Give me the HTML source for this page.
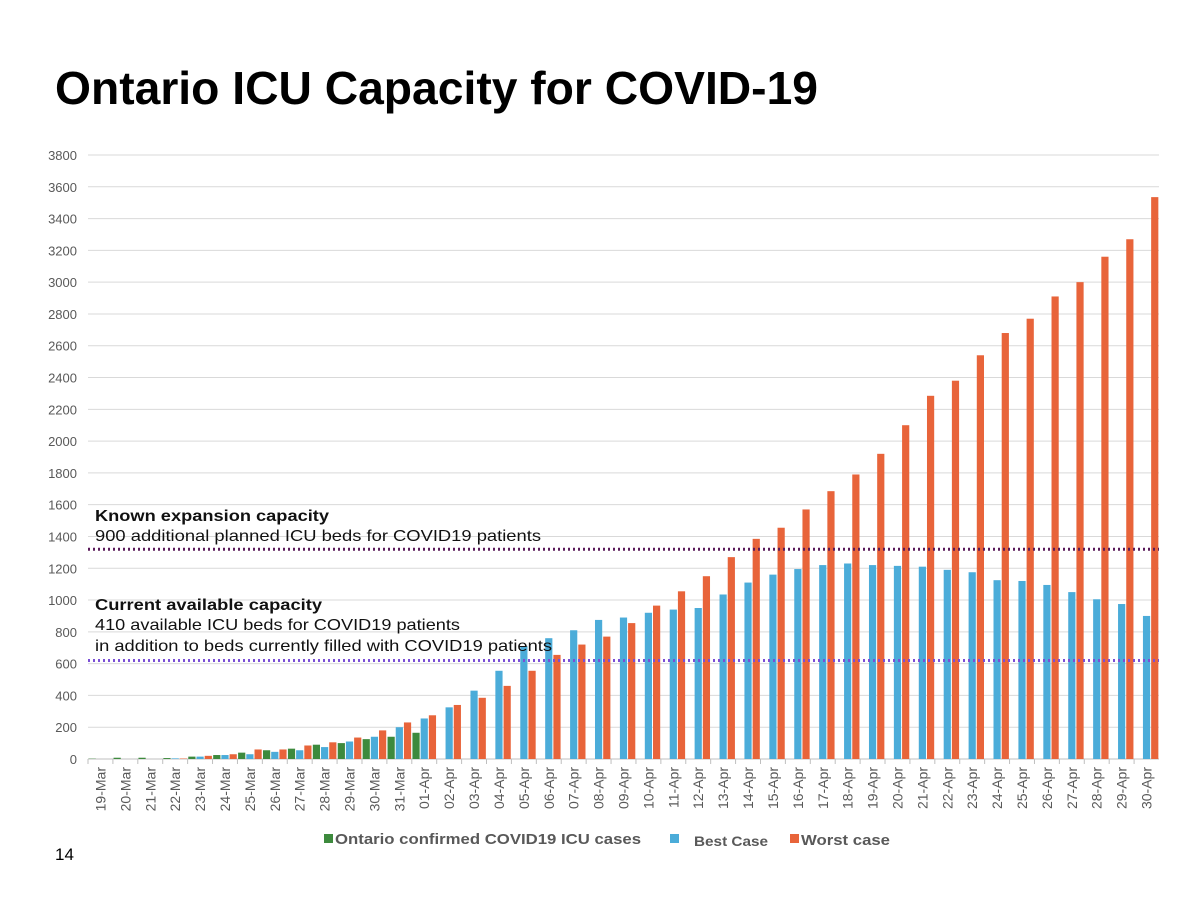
<!DOCTYPE html>
<html><head><meta charset="utf-8"><style>
body{margin:0;background:#fff;width:1200px;height:899px;overflow:hidden;font-family:"Liberation Sans",sans-serif}
</style></head><body>
<svg width="1200" height="899" xmlns="http://www.w3.org/2000/svg">
<text x="55" y="104" font-family="Liberation Sans" font-weight="bold" font-size="46" textLength="763" lengthAdjust="spacingAndGlyphs" fill="#000">Ontario ICU Capacity for COVID-19</text>
<g id="grid"></g>
<g id="yt"></g>
<g id="bars"></g>
<g id="xt"></g>
<line id="l1" stroke="#5a1a5a" stroke-width="3" stroke-dasharray="2,3"/>
<line id="l2" stroke="#7b4fd6" stroke-width="3" stroke-dasharray="2,3"/>
<g font-family="Liberation Sans" font-size="16" fill="#111">
<text x="95" y="521" font-weight="bold" textLength="234" lengthAdjust="spacingAndGlyphs">Known expansion capacity</text>
<text x="95" y="541" textLength="446" lengthAdjust="spacingAndGlyphs">900 additional planned ICU beds for COVID19 patients</text>
<text x="95" y="610" font-weight="bold" textLength="227" lengthAdjust="spacingAndGlyphs">Current available capacity</text>
<text x="95" y="630" textLength="365" lengthAdjust="spacingAndGlyphs">410 available ICU beds for COVID19 patients</text>
<text x="95" y="651" textLength="457" lengthAdjust="spacingAndGlyphs">in addition to beds currently filled with COVID19 patients</text>
</g>
<g font-family="Liberation Sans" font-size="15" font-weight="bold" fill="#595959">
<rect x="324" y="834" width="9" height="9" fill="#3d8a3d"/>
<text x="335" y="844" textLength="306" lengthAdjust="spacingAndGlyphs">Ontario confirmed COVID19 ICU cases</text>
<rect x="670" y="834" width="9" height="9" fill="#4bacd9"/>
<text x="694" y="846" font-size="14" textLength="74" lengthAdjust="spacingAndGlyphs">Best Case</text>
<rect x="790" y="834" width="9" height="9" fill="#e8643a"/>
<text x="801" y="845" textLength="89" lengthAdjust="spacingAndGlyphs">Worst case</text>
</g>
<text x="55" y="860" font-family="Liberation Sans" font-size="17" fill="#000">14</text>
</svg>
<script>
const categories=["19-Mar","20-Mar","21-Mar","22-Mar","23-Mar","24-Mar","25-Mar","26-Mar","27-Mar","28-Mar","29-Mar","30-Mar","31-Mar","01-Apr","02-Apr","03-Apr","04-Apr","05-Apr","06-Apr","07-Apr","08-Apr","09-Apr","10-Apr","11-Apr","12-Apr","13-Apr","14-Apr","15-Apr","16-Apr","17-Apr","18-Apr","19-Apr","20-Apr","21-Apr","22-Apr","23-Apr","24-Apr","25-Apr","26-Apr","27-Apr","28-Apr","29-Apr","30-Apr"];
const confirmed=[2,8,8,6,15,25,40,55,65,90,100,125,140,165];
const bestCase=[0,0,0,4,15,25,30,45,55,75,110,140,200,255,325,430,555,710,760,810,875,890,920,940,950,1035,1110,1160,1195,1220,1230,1220,1215,1210,1190,1175,1125,1120,1095,1050,1005,975,900];
const worstCase=[0,0,0,3,20,30,60,60,85,105,135,180,230,275,340,385,460,555,655,720,770,855,965,1055,1150,1270,1385,1455,1570,1685,1790,1920,2100,2285,2380,2540,2680,2770,2910,3000,3160,3270,3535];
const yTicks=[0,200,400,600,800,1000,1200,1400,1600,1800,2000,2200,2400,2600,2800,3000,3200,3400,3600,3800];
const expansionCapacity=1320, currentCapacity=620;
const NS="http://www.w3.org/2000/svg";
const X0=88,X1=1159,Y0=759,Y1=155,YMAX=3800;
const bw=(X1-X0)/categories.length;
const y=v=>Y0-v/YMAX*(Y0-Y1);
const xc=i=>X0+bw*(i+0.5);
function mk(t,a,p){const e=document.createElementNS(NS,t);for(const k in a)e.setAttribute(k,a[k]);p.appendChild(e);return e;}
const grid=document.getElementById('grid'),yt=document.getElementById('yt'),bars=document.getElementById('bars'),xt=document.getElementById('xt');
yTicks.forEach(v=>{
 const l=mk('line',{x1:X0,x2:X1,y1:y(v),y2:y(v),stroke:v?'#d9d9d9':'#bfbfbf','stroke-width':1},grid);
 
 
 const t=mk('text',{x:77,y:y(v)+5,'text-anchor':'end','font-size':13,fill:'#595959','font-family':'Liberation Sans'},yt);
 t.textContent=v;
 
 
});
const W=7.2;
categories.forEach((c,i)=>{
 const cx=xc(i);
 if(i<confirmed.length){
  const r=mk('rect',{x:cx-W*1.5-1,y:y(confirmed[i]),width:W,height:Y0-y(confirmed[i]),fill:'#3d8a3d'},bars);
  
  
 }
 const b=mk('rect',{x:cx-W/2,y:y(bestCase[i]),width:W,height:Y0-y(bestCase[i]),fill:'#4bacd9'},bars);
 
 
 const w=mk('rect',{x:cx+W/2+1,y:y(worstCase[i]),width:W,height:Y0-y(worstCase[i]),fill:'#e8643a'},bars);
 
 
 const tk=mk('line',{x1:X0+bw*i,x2:X0+bw*i,y1:Y0,y2:Y0+5,stroke:'#bfbfbf'},xt);
 
 
 const t=mk('text',{x:0,y:0,'text-anchor':'end','font-size':14,fill:'#595959','font-family':'Liberation Sans',transform:`translate(${cx+5},${Y0+8}) rotate(-90)`},xt);
 t.textContent=c;
 
 
});
const l1=document.getElementById('l1');
['x1','x2'].forEach((k,j)=>l1.setAttribute(k,j?X1:X0));
l1.setAttribute('y1',y(expansionCapacity));l1.setAttribute('y2',y(expansionCapacity));
const l2=document.getElementById('l2');
['x1','x2'].forEach((k,j)=>l2.setAttribute(k,j?X1:X0));
l2.setAttribute('y1',y(currentCapacity));l2.setAttribute('y2',y(currentCapacity));
</script>
</body></html>
